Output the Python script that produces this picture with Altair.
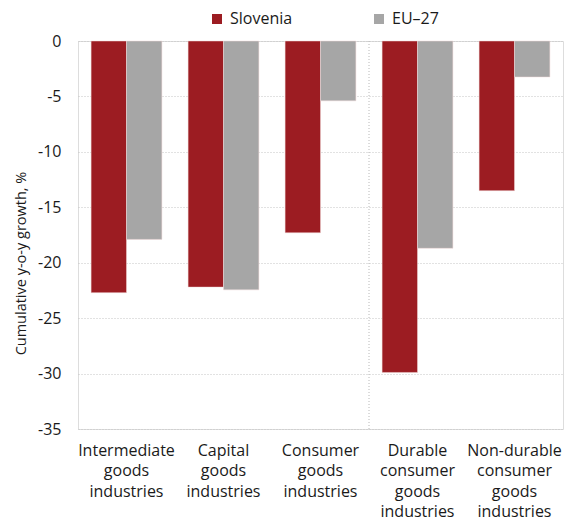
import altair as alt
import pandas as pd

categories = [
    "Intermediate goods industries",
    "Capital goods industries",
    "Consumer goods industries",
    "Durable consumer goods industries",
    "Non-durable consumer goods industries",
]
series = ["Slovenia", "EU–27"]
slovenia = [-22.7, -22.2, -17.3, -29.9, -13.5]
eu27 = [-17.9, -22.45, -5.4, -18.7, -3.25]
y_ticks = [0, -5, -10, -15, -20, -25, -30, -35]
divider_at = ["Durable consumer goods industries"]
colors = ["#9C1C22", "#A6A6A6"]

rows = []
for c, s, e in zip(categories, slovenia, eu27):
    rows.append({"category": c, "series": series[0], "value": s})
    rows.append({"category": c, "series": series[1], "value": e})
df = pd.DataFrame(rows)

FONT = "Open Sans"
TXT = "#1a1a1a"

x_enc = alt.X(
    "category:N",
    sort=categories,
    scale=alt.Scale(paddingInner=0, paddingOuter=0),
    axis=alt.Axis(
        title=None,
        bandPosition=0.5,
        labelExpr="split(datum.label, ' ')",
        labelAngle=0,
        labelAlign="center",
        labelFont=FONT,
        labelFontSize=16,
        labelColor=TXT,
        labelLineHeight=20.5,
        labelBaseline="top",
        labelPadding=13,
        ticks=False,
        tickSize=0,
        domain=False,
        grid=False,
    ),
)

bars = alt.Chart(df).mark_bar(stroke="#f0d8d8", strokeWidth=0.5).encode(
    x=x_enc,
    xOffset=alt.XOffset(
        "series:N", sort=series,
        scale=alt.Scale(domain=series, paddingInner=0, paddingOuter=0.37),
    ),
    y=alt.Y(
        "value:Q",
        scale=alt.Scale(domain=[-35, 0], nice=False, zero=True),
        axis=alt.Axis(
            values=y_ticks,
            labelExpr="'' + datum.value",
            labelFont=FONT,
            labelFontSize=16,
            labelColor=TXT,
            labelPadding=17,
            ticks=False,
            tickSize=0,
            domain=False,
            grid=True,
            gridColor="#c4c4c4",
            gridDash=[1, 2],
            gridWidth=1,
            title="Cumulative y-o-y growth, %",
            titleFont=FONT,
            titleFontSize=14.5,
            titleFontWeight="normal",
            titleColor=TXT,
            titleAngle=-90,
            titleX=-57,
            titleY=222,
            titleAlign="center",
            titleBaseline="middle",
        ),
    ),
    color=alt.Color(
        "series:N",
        sort=series,
        scale=alt.Scale(domain=series, range=colors),
        legend=alt.Legend(
            title=None,
            orient="none",
            legendX=131,
            legendY=-30,
            direction="horizontal",
            symbolType="square",
            symbolSize=100,
            symbolStrokeWidth=0,
            labelFont=FONT,
            labelFontSize=16,
            labelColor=TXT,
            labelOffset=5,
            columnPadding=78,
        ),
    ),
)

divider = alt.Chart(pd.DataFrame({"category": divider_at})).mark_rule(
    color="#b8b8b8", strokeDash=[1, 2], strokeWidth=1
).encode(
    x=alt.X("category:N", sort=categories, bandPosition=0)
)

chart = alt.layer(bars, divider).properties(
    width=485,
    height=388,
    autosize=alt.AutoSizeParams(type="none"),
    padding={"left": 70, "top": 33, "right": 1, "bottom": 92},
).configure_view(
    stroke="#bfbfbf", strokeWidth=1.5
).configure(background="white")

chart.save("out.html", embed_options={"renderer": "svg", "actions": False})
